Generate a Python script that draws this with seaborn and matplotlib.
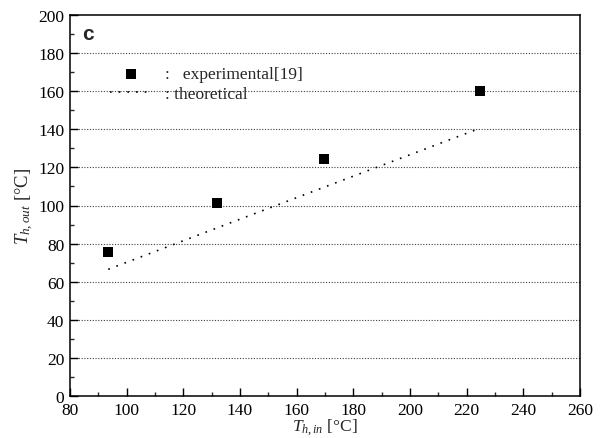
import matplotlib
matplotlib.use("Agg")
import matplotlib.pyplot as plt
from matplotlib.ticker import MultipleLocator
import seaborn as sns
import pandas as pd

# Data
exp_t_in = [93.5, 132.0, 169.7, 224.6]
exp_t_out = [75.6, 101.4, 124.6, 160.2]
theo_t_in = [93.5, 132.0, 169.7, 224.6]
theo_t_out = [66.5, 88.3, 109.6, 140.5]
x_ticks = [80, 100, 120, 140, 160, 180, 200, 220, 240, 260]
y_ticks = [0, 20, 40, 60, 80, 100, 120, 140, 160, 180, 200]
grid_levels = [20, 40, 60, 80, 100, 120, 140, 160, 180]

sns.set_theme(style="ticks")
plt.rcParams["font.family"] = ["Liberation Serif", "DejaVu Serif"]
plt.rcParams["mathtext.fontset"] = "custom"
plt.rcParams["mathtext.rm"] = "Liberation Serif"
plt.rcParams["mathtext.it"] = "Liberation Serif:italic"
plt.rcParams["mathtext.bf"] = "Liberation Serif:bold"

exp_df = pd.DataFrame({"tin": exp_t_in, "tout": exp_t_out})
theo_df = pd.DataFrame({"tin": theo_t_in, "tout": theo_t_out})

fig = plt.figure(figsize=(6.07, 4.39), dpi=100)
ax = fig.add_axes([70 / 607, 42 / 439, 510 / 607, 381 / 439])

for g in grid_levels:
    ax.axhline(g, color="0.25", lw=0.8, linestyle=(0, (1, 1.5)), zorder=0)

sns.lineplot(data=theo_df, x="tin", y="tout", ax=ax, color="black", lw=1.2,
             linestyle=(0, (1, 4.2)), label=": theoretical", zorder=2)
sns.scatterplot(data=exp_df, x="tin", y="tout", ax=ax, marker="s", s=52,
                color="black", linewidth=0, label=":   experimental[19]", zorder=3)

ax.set_xlim(80, 260)
ax.set_ylim(0, 200)
ax.set_xticks(x_ticks)
ax.set_yticks(y_ticks)
ax.xaxis.set_minor_locator(MultipleLocator(10))
ax.yaxis.set_minor_locator(MultipleLocator(10))
ax.tick_params(which="major", direction="in", length=5.5, width=1.0,
               labelsize=12.5, pad=4, colors="black")
ax.tick_params(which="minor", direction="in", length=3, width=1.0)
ax.tick_params(top=False, right=False, which="both")
for sp in ax.spines.values():
    sp.set_visible(True)
    sp.set_linewidth(1.1)
    sp.set_color("black")

ax.set_xlabel(r"$T_{h,in}$ [°C]", fontsize=12.5, labelpad=-1)
ax.set_ylabel(r"$T_{h,out}$ [°C]", fontsize=13.5, labelpad=2)

# reorder legend: experimental first
handles, labels = ax.get_legend_handles_labels()
order = [labels.index(":   experimental[19]"), labels.index(": theoretical")]
leg = ax.legend([handles[i] for i in order], [labels[i] for i in order],
                loc="upper left", bbox_to_anchor=(0.0784, 0.866),
                frameon=False, fontsize=12.5, borderaxespad=0, borderpad=0,
                handlelength=2.4, handletextpad=0.75, labelspacing=0.2)

ax.text((88.3 - 70) / 510, (397 - 35) / 381, "c", transform=ax.transAxes,
        fontsize=15, fontweight="bold", family="Liberation Sans",
        ha="center", va="center")

fig.savefig("out.png", dpi=100)
